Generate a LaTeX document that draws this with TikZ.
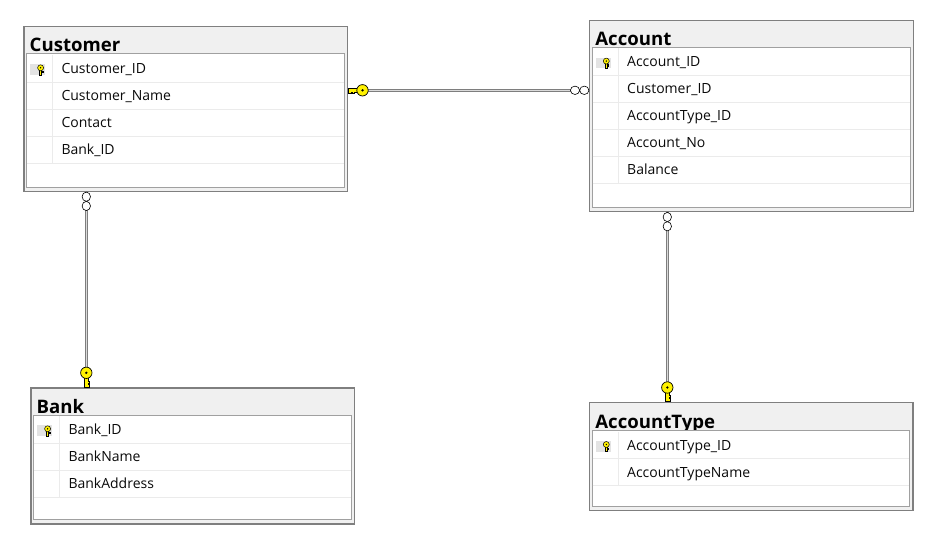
\documentclass[tikz,border=0pt]{standalone}
\usepackage{fontspec}
\setmainfont{Open Sans}
\definecolor{headc}{HTML}{F0F0F0}
\definecolor{outerc}{HTML}{7F7F7F}
\definecolor{innerc}{HTML}{A0A0A0}
\definecolor{rowc}{HTML}{EBEBEB}
\definecolor{keybg}{HTML}{E3E3E3}
\definecolor{keyy}{HTML}{FFF200}
\definecolor{lined}{HTML}{7E7E7E}
\definecolor{linel}{HTML}{DADADA}
\definecolor{textc}{HTML}{0A0A0A}
\tikzset{
  tblouter/.style={rectangle, draw=outerc, fill=headc, line width=1.3pt, inner sep=0pt},
  tblinner/.style={draw=innerc, fill=white, line width=1pt},
  rowline/.style={draw=rowc, line width=0.9pt},
  tbltitle/.style={font=\bfseries\fontsize{18.6}{20}\selectfont, inner sep=0pt, anchor=base west, text=black},
  rowtext/.style={font=\fontsize{14}{16}\selectfont, inner sep=0pt, anchor=base west, text=textc},
  relline/.style={draw=lined, line width=0.9pt, double=linel, double distance=1.3pt},
  keyshape/.style={fill=keyy, draw=black, line width=0.7pt, line join=miter},
  zeroshape/.style={fill=white, draw=black, line width=0.6pt}
}
% #1 name, #2 x1, #3 y1, #4 x2, #5 y2, #6 inner top, #7 title, #8 rows
\newcommand\erdtab[8]{%
  \node[tblouter, anchor=north west, minimum width={#4-#2}, minimum height={#5-#3}] (#1) at (#2,#3) {};
  \node[tbltitle] (#1-t) at (#2+6.2,#6-2) {#7};
  \draw[tblinner] (#2+3,#6) rectangle (#4-2.7,#5-3.5);
  \foreach \r [count=\i] in {#8} {
    \pgfmathsetmacro\rt{#6+1+27*(\i-1)}
    \draw[rowline] (#2+3.5,\rt+27) -- (#4-3.2,\rt+27);
    \draw[rowline] (#2+29.5,\rt) -- (#2+29.5,\rt+27);
    \node[rowtext] (#1-r\i) at (#2+38,\rt+18.3) {\r};
  }
  \fill[keybg] (#2+6.7,#6+10.3) rectangle (#2+21.7,#6+21);
  \rowkey{#2+17.3,#6+13.8}
}
\newcommand\rowkey[1]{%
  \begin{scope}[shift={(#1)}]
    \filldraw[keyshape, line width=0.5pt] (-1.1,0) -- (1.1,0) -- (1.1,7) -- (-1.1,7) -- cycle;
    \filldraw[keyshape, line width=0.5pt] (1.1,3.6) rectangle (2.3,4.7);
    \filldraw[keyshape, line width=0.5pt] (0,0) circle[radius=3pt];
    \fill[black] (0,0) circle[radius=0.8pt];
  \end{scope}}
% key: tip at #1, extends along local +x, rotated by #2
\newcommand\relkey[2]{%
  \begin{scope}[shift={(#1)}, rotate=#2]
    \filldraw[keyshape] (0.3,-1.9) -- (10,-1.9) -- (10,1.9) -- (6.2,1.9) -- (6.2,3.4) -- (4.4,3.4) -- (4.4,1.9) -- (3.2,1.9) -- (3.2,3.4) -- (0.3,3.4) -- cycle;
    \filldraw[keyshape] (14.5,0) circle[radius=5.7pt];
    \fill[black] (14.5,0) circle[radius=1.3pt];
  \end{scope}}
\newcommand\zeromany[2]{%
  \begin{scope}[shift={(#1)}, rotate=#2]
    \filldraw[zeroshape] (4.7,0) ellipse[x radius=4.6pt, y radius=4.2pt];
    \filldraw[zeroshape] (14,0) ellipse[x radius=4.6pt, y radius=4.2pt];
  \end{scope}}
\begin{document}
\begin{tikzpicture}[x=1pt,y=-1pt]
  \useasboundingbox[fill=white] (0,0) rectangle (946,540);
  \erdtab{cust}{23.3}{26}{346.7}{190.7}{54}{Customer}{Customer\_ID,Customer\_Name,Contact,Bank\_ID}
  \erdtab{acct}{589}{19.7}{912.7}{211}{47.3}{Account}{Account\_ID,Customer\_ID,AccountType\_ID,Account\_No,Balance}
  \erdtab{bank}{30.3}{387.3}{353.7}{523.3}{415}{Bank}{Bank\_ID,BankName,BankAddress}
  \erdtab{atype}{589}{402}{912.3}{510}{430.7}{AccountType}{AccountType\_ID,AccountTypeName}
  % Customer -- Account
  \coordinate (h1) at (cust.east |- 0,90.3);
  \coordinate (h2) at (acct.west |- 0,90.3);
  \draw[relline] (h1) -- (h2);
  \relkey{h1}{0}
  \zeromany{h2}{180}
  % Customer -- Bank
  \coordinate (v1a) at (cust.south -| 86.3,0);
  \coordinate (v1b) at (bank.north -| 86.3,0);
  \draw[relline] (v1a) -- (v1b);
  \zeromany{v1a}{-90}
  \relkey{v1b}{90}
  % Account -- AccountType
  \coordinate (v2a) at (acct.south -| 667.3,0);
  \coordinate (v2b) at (atype.north -| 667.3,0);
  \draw[relline] (v2a) -- (v2b);
  \zeromany{v2a}{-90}
  \relkey{v2b}{90}
\end{tikzpicture}
\end{document}
